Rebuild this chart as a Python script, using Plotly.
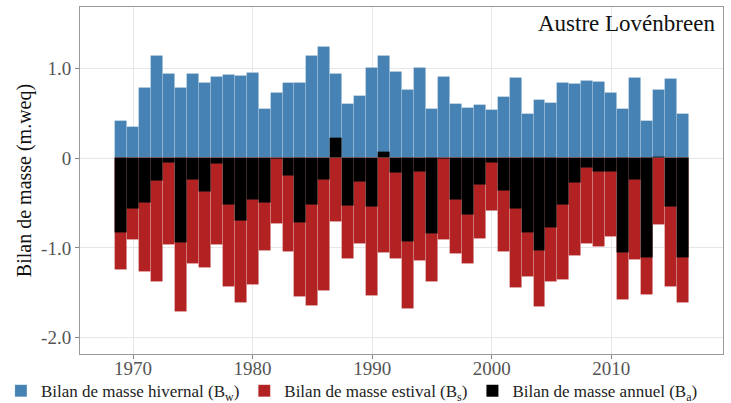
import plotly.graph_objects as go

years = list(range(1969, 2017))
winter = [0.41, 0.35, 0.78, 1.13, 0.93, 0.78, 0.94, 0.84, 0.90, 0.92, 0.91, 0.95,
          0.54, 0.72, 0.84, 0.83, 1.13, 1.24, 0.93, 0.60, 0.69, 1.00, 1.13, 0.96,
          0.76, 1.00, 0.55, 0.90, 0.60, 0.56, 0.59, 0.53, 0.68, 0.89, 0.49, 0.64,
          0.61, 0.84, 0.82, 0.86, 0.85, 0.72, 0.54, 0.89, 0.41, 0.76, 0.88, 0.49]
summer = [-1.24, -0.91, -1.27, -1.38, -0.97, -1.71, -1.18, -1.22, -0.97, -1.43, -1.61, -1.41,
          -1.03, -0.73, -1.04, -1.55, -1.65, -1.48, -0.71, -1.12, -0.96, -1.54, -1.06, -1.12,
          -1.68, -1.14, -1.38, -0.91, -1.07, -1.18, -0.90, -0.59, -1.04, -1.45, -1.32, -1.66,
          -1.38, -1.36, -1.09, -0.96, -0.99, -0.88, -1.58, -1.13, -1.52, -0.75, -1.44, -1.61]
annual = [-0.83, -0.57, -0.50, -0.25, -0.05, -0.94, -0.24, -0.38, -0.07, -0.52, -0.70, -0.47,
          -0.50, -0.01, -0.20, -0.72, -0.52, -0.24, 0.22, -0.53, -0.27, -0.55, 0.07, -0.17,
          -0.93, -0.15, -0.84, -0.01, -0.47, -0.63, -0.30, -0.06, -0.37, -0.57, -0.83, -1.03,
          -0.78, -0.52, -0.28, -0.11, -0.15, -0.16, -1.06, -0.24, -1.11, 0.01, -0.55, -1.11]

y_ticks = [1.0, 0, -1.0, -2.0]
y_ticklabels = ["1.0", "0", "-1.0", "-2.0"]
x_ticks = [1970, 1980, 1990, 2000, 2010]

FONT = "Liberation Serif"
edge = dict(color="rgba(255,255,255,0.2)", width=0.8)

fig = go.Figure()
fig.add_trace(go.Bar(x=years, y=winter, name="Bilan de masse hivernal (B<sub>w</sub>)",
                     marker=dict(color="#4682B4", line=edge), width=1))
fig.add_trace(go.Bar(x=years, y=summer, name="Bilan de masse estival (B<sub>s</sub>)",
                     marker=dict(color="#B22222", line=edge), width=1))
fig.add_trace(go.Bar(x=years, y=annual, name="Bilan de masse annuel (B<sub>a</sub>)",
                     marker=dict(color="#000000", line=dict(color="rgba(255,255,255,0.06)", width=0.8)), width=1))

fig.update_layout(
    width=731, height=403,
    margin=dict(l=80, r=8, t=7, b=49, autoexpand=False),
    barmode="overlay", bargap=0,
    plot_bgcolor="white", paper_bgcolor="white",
    font=dict(family=FONT, size=18, color="#555555"),
    showlegend=True,
    legend=dict(orientation="h", x=-0.123, xanchor="left",
                y=-0.107, yanchor="middle",
                font=dict(family=FONT, size=17, color="#222222"),
                traceorder="normal", itemwidth=30, bgcolor="rgba(0,0,0,0)"),
    annotations=[dict(text="Austre Lovénbreen", xref="paper", yref="paper",
                      x=0.99, y=0.995, xanchor="right", yanchor="top", showarrow=False,
                      font=dict(family=FONT, size=23, color="#111111"))],
)
fig.update_xaxes(range=[1965.56, 2019.35], tickvals=x_ticks, ticks="outside", ticklen=4,
                 tickcolor="#888888", showgrid=True, gridcolor="#e6e6e6", gridwidth=1,
                 showline=True, linecolor="#999999", linewidth=1, mirror=True, zeroline=False,
                 ticklabelstandoff=-7,
                 tickfont=dict(family=FONT, size=19, color="#555555"))
fig.update_yaxes(range=[-2.18, 1.68], tickvals=y_ticks, ticktext=y_ticklabels, ticks="outside",
                 ticklen=4, tickcolor="#888888", showgrid=True, gridcolor="#e6e6e6", gridwidth=1,
                 showline=True, linecolor="#999999", linewidth=1, mirror=True, zeroline=False,
                 title=dict(text="Bilan de masse (m.weq)", font=dict(family=FONT, size=20, color="#111111"),
                            standoff=4),
                 tickfont=dict(family=FONT, size=19, color="#555555"))

fig.write_html("out.html", config={"displayModeBar": False},
               post_script="document.body.style.margin='0';document.body.style.padding='0';")
